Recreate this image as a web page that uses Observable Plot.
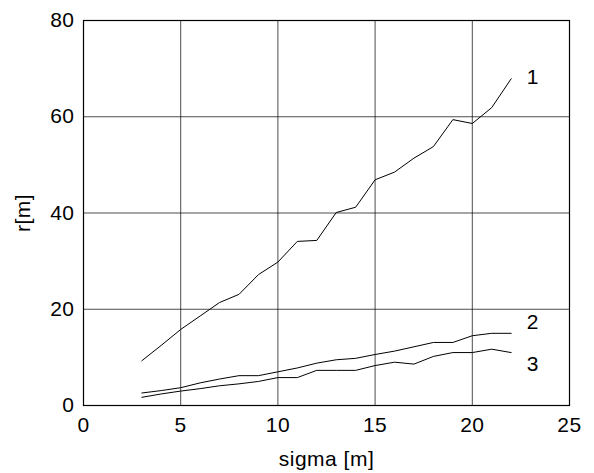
<!DOCTYPE html>
<html>
<head>
<meta charset="utf-8">
<script src="https://cdn.jsdelivr.net/npm/d3@7"></script>
<script src="https://cdn.jsdelivr.net/npm/@observablehq/plot@0.6"></script>
<style>
  html, body { margin: 0; padding: 0; background: #fff; }
  svg { font-family: "Liberation Sans", Arial, Helvetica, sans-serif; }
  svg text { letter-spacing: 0.5px; }
</style>
</head>
<body>
<div id="chart"></div>
<script>
const sigma = [3,4,5,6,7,8,9,10,11,12,13,14,15,16,17,18,19,20,21,22];
const r1 = [9.3,12.5,15.8,18.6,21.4,23.1,27.2,29.8,34.1,34.3,40.1,41.2,46.9,48.5,51.4,53.8,59.4,58.6,61.9,67.9];
const r2 = [2.6,3.1,3.7,4.7,5.5,6.2,6.2,7.0,7.8,8.8,9.5,9.8,10.6,11.3,12.2,13.1,13.1,14.5,15.0,15.0];
const r3 = [1.7,2.4,3.0,3.5,4.1,4.5,5.0,5.8,5.8,7.3,7.3,7.3,8.3,9.0,8.6,10.2,11.0,11.0,11.7,11.0];
const seriesNames = ["1","2","3"];
const labelX = [22.8,22.8,22.8];
const labelY = [68.3,17.2,8.6];
const xTicks = [0,5,10,15,20,25];
const yTicks = [0,20,40,60,80];

const seriesValues = [r1, r2, r3];
const rows = [];
seriesValues.forEach((vals, i) => vals.forEach((v, j) => rows.push({s: seriesNames[i], x: sigma[j], y: v})));
const labels = seriesNames.map((n, i) => ({n, x: labelX[i], y: labelY[i]}));

const chart = Plot.plot({
  width: 594,
  height: 473,
  marginLeft: 83,
  marginRight: 25,
  marginTop: 20,
  marginBottom: 68,
  style: {fontFamily: '"Liberation Sans", Arial, sans-serif', fontSize: "21px", color: "#000", background: "#fff"},
  x: {domain: [0, 25], ticks: xTicks},
  y: {domain: [0, 80], ticks: yTicks},
  marks: [
    Plot.gridX(xTicks, {stroke: "#000", strokeOpacity: 0.7, strokeWidth: 1}),
    Plot.gridY(yTicks, {stroke: "#000", strokeOpacity: 0.7, strokeWidth: 1}),
    Plot.frame({stroke: "#000", strokeWidth: 1.2}),
    Plot.axisX(xTicks, {tickSize: 0, tickPadding: 12, fontSize: 21, label: "sigma [m]", labelAnchor: "center", labelArrow: "none", labelOffset: 60}),
    Plot.axisY(yTicks, {tickSize: 0, tickPadding: 9, fontSize: 21, label: "r[m]", labelAnchor: "center", labelArrow: "none", labelOffset: 68}),
    Plot.line(rows, {x: "x", y: "y", z: "s", stroke: "#000", strokeWidth: 1}),
    Plot.text(labels, {x: "x", y: "y", text: "n", fontSize: 21, textAnchor: "start", fill: "#000"})
  ]
});
document.getElementById("chart").appendChild(chart);
</script>
</body>
</html>
